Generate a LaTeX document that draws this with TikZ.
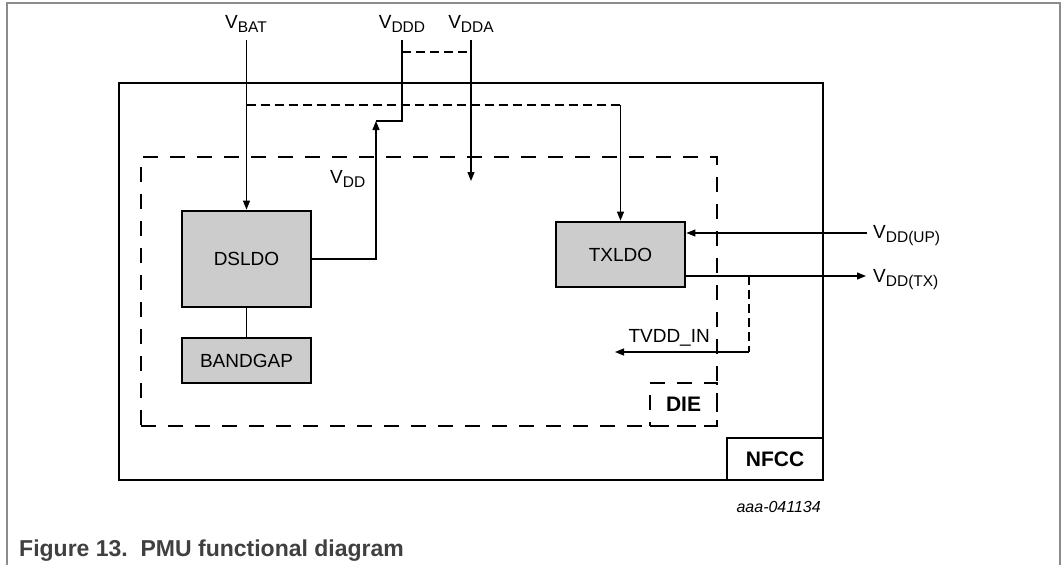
\documentclass[tikz,border=0pt]{standalone}
\usepackage{fontspec}
\setmainfont{Liberation Sans}
\usetikzlibrary{arrows.meta}
\definecolor{boxgray}{HTML}{CCCCCC}
\definecolor{capgray}{HTML}{404040}
\definecolor{pagegray}{HTML}{8C8C8C}
\newcommand\lsub[1]{\raisebox{-4.5pt}{\fontsize{15.5}{16}\selectfont #1}}
\begin{document}
\begin{tikzpicture}[x=1pt,y=-1pt,
  blk/.style={draw,line width=2.8pt,fill=boxgray,inner sep=0pt,font=\fontsize{19}{19}\selectfont},
  framebox/.style={draw,line width=2.8pt,inner sep=0pt},
  diebox/.style={draw,line width=2.8pt,dash pattern=on 15pt off 12pt,inner sep=0pt},
  wire/.style={line width=1.2pt},
  arr/.style={wire,-{Triangle[length=9pt,width=7pt]}},
  thindash/.style={wire,dash pattern=on 9pt off 5pt},
  lbl/.style={font=\fontsize{19}{19}\selectfont,inner sep=0pt},
  boldlbl/.style={font=\fontsize{21}{21}\selectfont\bfseries,inner sep=0pt},
]
\useasboundingbox (0,0) rectangle (1063,565);
% page frame
\draw[pagegray,line width=1.5pt] (7,565) -- (7,3) -- (1060,3) -- (1060,565);

% outer NFCC box and die
\node[framebox,minimum width=704pt,minimum height=397pt] (nfcc) at (471,281.5) {};
\node[framebox,minimum width=96pt,minimum height=42pt,boldlbl] (nfcclbl) at (775,459) {NFCC};
\node[diebox,minimum width=576pt,minimum height=269pt] (die) at (429,291.5) {};
\node[diebox,minimum width=67pt,minimum height=43pt,boldlbl] (dielbl) at (683.5,404.5) {DIE};

% blocks
\node[blk,minimum width=129pt,minimum height=96pt] (dsldo) at (246.5,259) {DSLDO};
\node[blk,minimum width=129pt,minimum height=45pt] (bandgap) at (246.5,360.5) {BANDGAP};
\node[blk,minimum width=129pt,minimum height=65pt] (txldo) at (620.5,254.5) {TXLDO};

% supply labels
\node[lbl,anchor=base] (vbat) at (246,28) {V\lsub{BAT}};
\node[lbl,anchor=base] (vddd) at (402,28) {V\lsub{DDD}};
\node[lbl,anchor=base] (vdda) at (471,28) {V\lsub{DDA}};
\node[lbl,anchor=base west] (vdd) at (330,183) {V\lsub{DD}};
\node[lbl,anchor=base west] (vddup) at (873,238) {V\lsub{DD(UP)}};
\node[lbl,anchor=base west] (vddtx) at (873,282) {V\lsub{DD(TX)}};
\node[lbl,anchor=base east] (tvdd) at (710,342) {TVDD\_IN};

% coordinates
\coordinate (vbatT) at (246.5,40);
\coordinate (vdddT) at (402,40);
\coordinate (vddaT) at (471,40);
\coordinate (vddaE) at (471,181);
\coordinate (step) at (376,121);
\coordinate (j1) at (402,52);
\coordinate (j2) at (471,52);
\coordinate (b1) at (246.5,105);
\coordinate (b2) at (620.5,105);
\coordinate (upE) at (867,233);
\coordinate (txS) at (685,276);
\coordinate (txE) at (866,276);
\coordinate (t1) at (749,276);
\coordinate (t2) at (749,352);
\coordinate (tTip) at (615,352);

% connectors
\draw[arr] (vbatT) -- (dsldo.north);
\draw[wire] (dsldo.south) -- (bandgap.north);
\draw[arr] (dsldo.east) -| (step);
\draw[wire] (step) -| (vdddT);
\draw[arr] (vddaT) -- (vddaE);
\draw[thindash] (j1) -- (j2);
\draw[thindash] (b1) -- (b2);
\draw[arr] (b2) -- (txldo.north);
\draw[arr] (upE) -- (upE -| txldo.east);
\draw[arr] (txS) -- (txE);
\draw[thindash] (t1) -- (t2);
\draw[arr] (t2) -- (tTip);

% captions
\node[inner sep=0pt,anchor=base east,font=\fontsize{16}{16}\selectfont\itshape] (code) at (821,512) {aaa-041134};
\node[inner sep=0pt,anchor=base west,font=\fontsize{23}{23}\selectfont\bfseries,text=capgray] (cap) at (19,556) {Figure 13.\ \ PMU functional diagram};
\end{tikzpicture}
\end{document}
